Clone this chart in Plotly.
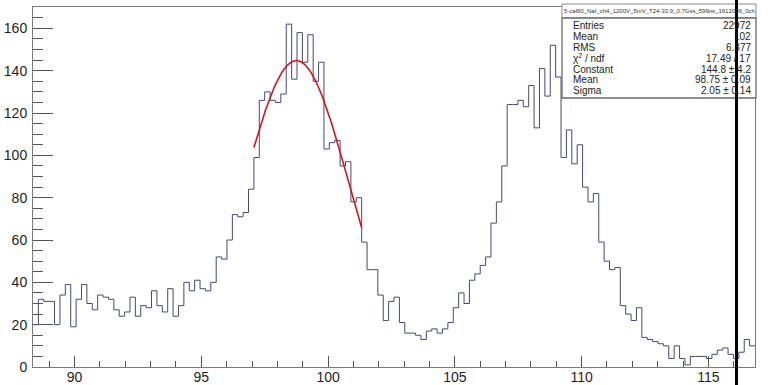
import numpy as np
import plotly.graph_objects as go

# ---- histogram binning and contents ----
x_first_edge = 88.3625
bin_width = 0.2125
counts = [
    20, 32, 31, 31, 20, 34, 39, 19, 32, 39,
    30, 27, 34, 33, 32, 27, 24, 26, 33, 24,
    29, 28, 36, 29, 26, 37, 24, 29, 40, 36,
    41, 37, 36, 40, 52, 51, 60, 72, 71, 73,
    84, 99, 126, 130, 126, 125, 129, 162, 136, 158,
    144, 157, 135, 144, 103, 106, 107, 95, 97, 78,
    80, 59, 46, 46, 34, 22, 31, 33, 21, 16,
    16, 15, 13, 17, 18, 16, 18, 21, 28, 35,
    30, 41, 44, 48, 52, 68, 78, 95, 124, 124,
    126, 123, 133, 113, 141, 128, 152, 137, 99, 112,
    96, 105, 85, 78, 82, 59, 50, 46, 47, 29,
    25, 22, 28, 14, 13, 12, 11, 10, 4, 10,
    4, 1, 5, 5, 5, 4, 6, 8, 9, 6,
    4, 7, 13, 10,
]

# ---- gaussian fit result ----
fit_constant = 144.8
fit_mean = 98.75
fit_sigma = 2.05
fit_low, fit_high = 97.075, 101.325

# ---- statistics box ----
hist_name = "5-cal60_NaI_ch4_1200V_5mV_T24-33.9_0.7Gss_599ns_1612009_0ch"
stat_labels = ["Entries", "Mean", "RMS", "\u03c7<sup>2</sup> / ndf",
               "Constant", "Mean", "Sigma"]
stat_values = ["22972", "102", "6.377", "17.49 / 17",
               "144.8 \u00b1 4.2", "98.75 \u00b1 0.09", "2.05 \u00b1 0.14"]

x_ticks = [90, 95, 100, 105, 110, 115]
y_ticks = [0, 20, 40, 60, 80, 100, 120, 140, 160]
y_max = 170.1

# ---- figure geometry (pixels) ----
W, H = 770, 385
ML, MR, MT, MB = 33, 15, 7, 18
PW, PH = W - ML - MR, H - MT - MB


def px(x):
    return (x - ML) / PW


def py(y):
    return (H - MB - y) / PH


n = len(counts)
edges = x_first_edge + bin_width * np.arange(n + 1)
step_x = list(edges)
step_y = list(counts) + [counts[-1]]

xf = np.linspace(fit_low, fit_high, 200)
yf = fit_constant * np.exp(-0.5 * ((xf - fit_mean) / fit_sigma) ** 2)

fig = go.Figure()
fig.add_trace(go.Scatter(
    x=step_x, y=step_y, mode="lines", line_shape="hv",
    line=dict(color="#424a72", width=1), hoverinfo="skip", showlegend=False,
))
fig.add_trace(go.Scatter(
    x=xf, y=yf, mode="lines",
    line=dict(color="#d4141e", width=1.6), hoverinfo="skip", showlegend=False,
))

font = "Liberation Sans, Arial, Helvetica, sans-serif"
frame_col = "#7a7a7a"

fig.update_xaxes(
    range=[edges[0], edges[-1]], automargin=False,
    tickvals=x_ticks, ticktext=[str(v) for v in x_ticks],
    ticks="inside", ticklen=11, tickwidth=1, tickcolor="#555",
    minor=dict(dtick=1, tick0=90, ticks="inside", ticklen=6,
               tickcolor="#555", tickwidth=1, showgrid=False),
    showline=True, linecolor=frame_col, linewidth=1, mirror=True,
    showgrid=False, zeroline=False, ticklabelstandoff=-3,
    tickfont=dict(family=font, size=14, color="#1e1e1e"),
)
fig.update_yaxes(
    range=[0, y_max], automargin=False,
    tickvals=y_ticks, ticktext=[str(v) for v in y_ticks],
    ticks="inside", ticklen=20, tickwidth=1, tickcolor="#555",
    minor=dict(dtick=5, tick0=0, ticks="inside", ticklen=10,
               tickcolor="#555", tickwidth=1, showgrid=False),
    showline=True, linecolor=frame_col, linewidth=1, mirror=True,
    showgrid=False, zeroline=False, ticklabelstandoff=2,
    tickfont=dict(family=font, size=14, color="#1e1e1e"),
)

shapes = []
annotations = []

# statistics box: title strip and body
bx0, bx1 = 562, 756
shapes.append(dict(type="rect", xref="paper", yref="paper",
                   x0=px(bx0), x1=px(bx1), y0=py(18), y1=py(4),
                   line=dict(color="#8a8a8a", width=1), fillcolor="white"))
shapes.append(dict(type="rect", xref="paper", yref="paper",
                   x0=px(bx0), x1=px(bx1), y0=py(98), y1=py(18),
                   line=dict(color="#6a6a6a", width=1.3), fillcolor="white"))
annotations.append(dict(text=hist_name, xref="paper", yref="paper",
                        x=px((bx0 + bx1) / 2), y=py(11), showarrow=False,
                        xanchor="center", yanchor="middle",
                        font=dict(family=font, size=6, color="#333")))
row_y = [25, 36, 47, 58, 69, 80, 91]
for lab, val, yy in zip(stat_labels, stat_values, row_y):
    annotations.append(dict(text=lab, xref="paper", yref="paper",
                            x=px(571), y=py(yy), showarrow=False,
                            xanchor="left", yanchor="middle",
                            font=dict(family=font, size=10, color="#222")))
    annotations.append(dict(text=val, xref="paper", yref="paper",
                            x=px(753), y=py(yy), showarrow=False,
                            xanchor="right", yanchor="middle",
                            font=dict(family=font, size=10, color="#222")))

# dark vertical marker line across the whole canvas
shapes.append(dict(type="line", xref="paper", yref="paper",
                   x0=px(736.5), x1=px(736.5), y0=py(H), y1=py(0),
                   line=dict(color="#000000", width=3), layer="above"))

fig.update_layout(
    width=W, height=H,
    margin=dict(l=ML, r=MR, t=MT, b=MB, pad=0, autoexpand=False),
    paper_bgcolor="white", plot_bgcolor="white",
    shapes=shapes, annotations=annotations,
    font=dict(family=font),
)

fig.write_html("out.html")
